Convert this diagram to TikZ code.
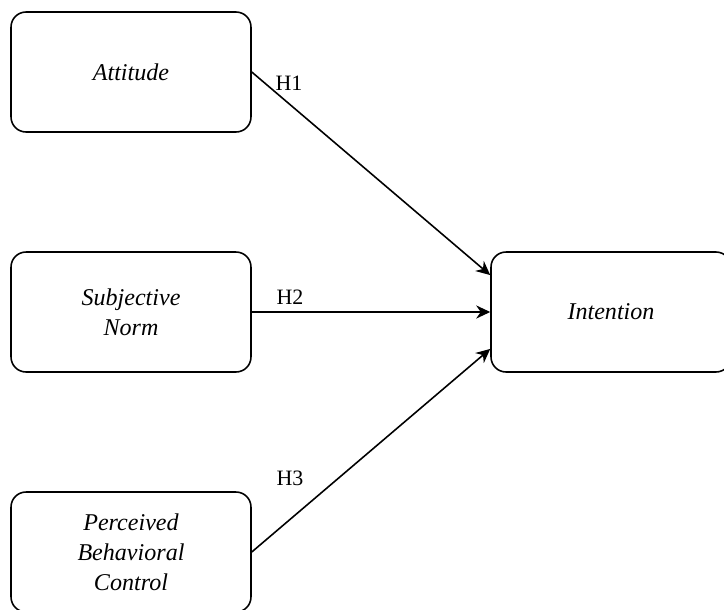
\documentclass[tikz,border=0pt]{standalone}
\usepackage{fontspec}
\setmainfont{Liberation Serif}
\usetikzlibrary{arrows.meta}

\begin{document}
\begin{tikzpicture}[x=0.02cm,y=-0.02cm,
        construct/.style={draw, rounded corners=0.3cm, line width=0.9pt,
          minimum width=4.8cm, minimum height=2.4cm, align=center,
          font=\fontsize{13.7}{17}\selectfont\itshape},
        hpath/.style={-{Stealth[length=8pt,width=7.5pt]}, line width=0.9pt},
        hlabel/.style={font=\fontsize{12.5}{14}\selectfont}]
        \useasboundingbox (0,0) rectangle (724,609);
        % exogenous constructs
        \node[construct] (att) at (131,72) {Attitude};
        \node[construct] (sn) at (131,312) {Subjective\\Norm};
        \node[construct] (pbc) at (131,552) {Perceived\\Behavioral\\Control};
        % endogenous construct
        \node[construct] (int) at (611,312) {Intention};
        % hypotheses
        \draw[hpath] (att.east) -- (int.163);
        \node[hlabel] (h1) at (289,83) {H1};
        \draw[hpath] (sn.east) -- (int.west);
        \node[hlabel] (h2) at (290,297) {H2};
        \draw[hpath] (pbc.east) -- (int.197);
        \node[hlabel] (h3) at (290,478) {H3};
\end{tikzpicture}
\end{document}
